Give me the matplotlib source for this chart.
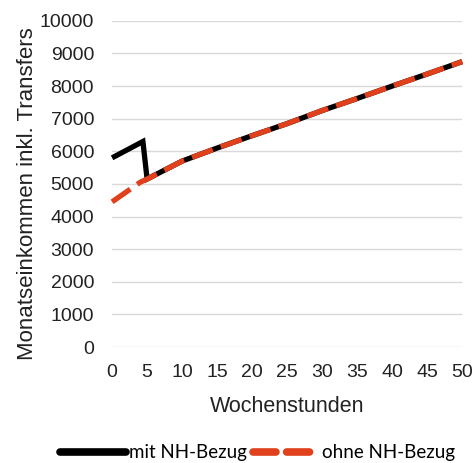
import matplotlib
matplotlib.use("Agg")
import matplotlib.pyplot as plt
from matplotlib.lines import Line2D

hours_mit = [0, 4.4, 5, 10, 15, 20, 25, 30, 35, 40, 45, 50]
income_mit = [5800, 6300, 5150, 5700, 6100, 6480, 6850, 7250, 7620, 8000, 8370, 8750]
hours_ohne = [0, 4, 5, 10, 15, 20, 25, 30, 35, 40, 45, 50]
income_ohne = [4450, 5050, 5150, 5700, 6100, 6480, 6850, 7250, 7620, 8000, 8370, 8750]
xticks = list(range(0, 55, 5))
yticks = list(range(0, 11000, 1000))

plt.rcParams['font.family'] = ['Liberation Sans', 'DejaVu Sans']

fig = plt.figure(figsize=(4.77, 4.63), dpi=100)
ax = fig.add_axes([0.235, 0.2505, 0.734, 0.7045])

ax.plot(hours_mit, income_mit, color='black', lw=3.8, solid_capstyle='butt',
        solid_joinstyle='miter', clip_on=False, zorder=3)
ax.plot(hours_ohne, income_ohne, color='#e0401c', lw=3.8, dashes=(4.2, 1.6),
        dash_capstyle='butt', clip_on=False, zorder=4)

ax.set_xlim(0, 50)
ax.set_ylim(0, 10000)
ax.set_xticks(xticks)
ax.set_yticks(yticks)
ax.tick_params(axis='both', length=0, labelsize=14, colors='#222222')
ax.tick_params(axis='x', pad=12)
ax.tick_params(axis='y', pad=13)
for s in ax.spines.values():
    s.set_visible(False)
ax.grid(axis='y', color='#d9d9d9', lw=1)
ax.set_axisbelow(True)

ax.set_xlabel('Wochenstunden', fontsize=15.5, color='#222222', labelpad=11)
ax.set_ylabel('Monatseinkommen inkl. Transfers', fontsize=16, color='#222222')
ax.yaxis.set_label_coords(-0.212, 0.47)

handles = [Line2D([], [], color='black', lw=5.5, solid_capstyle='round'),
           Line2D([], [], color='#e0401c', lw=5.5, dashes=(3.0, 1.4), dash_capstyle='round')]
fig.legend(handles, ['mit NH-Bezug', 'ohne NH-Bezug'], loc='center',
           bbox_to_anchor=(0.54, 0.022), ncol=2, frameon=False,
           prop={'family': 'Lato', 'size': 13.5}, handlelength=3.5,
           handletextpad=0.2, columnspacing=0.3)

fig.savefig('out.png', dpi=100)
